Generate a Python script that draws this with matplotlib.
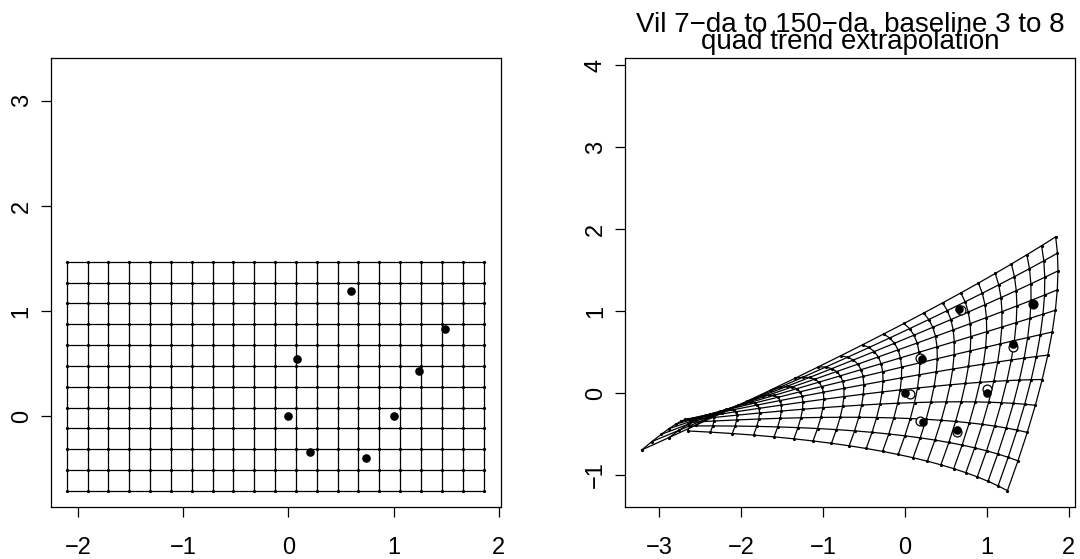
import numpy as np
import matplotlib
matplotlib.use("Agg")
import matplotlib.pyplot as plt

plt.rcParams['font.family'] = ['Liberation Sans', 'DejaVu Sans']

# Regular reference grid (source configuration space)
grid_x = [-2.105, -1.907, -1.709, -1.511, -1.313, -1.115, -0.917, -0.719,
          -0.521, -0.323, -0.125, 0.073, 0.271, 0.469, 0.667, 0.865,
          1.063, 1.261, 1.459, 1.657, 1.855]
grid_y = [-0.708, -0.510, -0.312, -0.114, 0.084, 0.282, 0.480, 0.678,
          0.876, 1.074, 1.272, 1.470]

# Landmarks in Bookstein coordinates (baseline 3 to 8)
src_x = [0.593, 1.491, 0.081, 1.238, 0.000, 1.000, 0.204, 0.738]
src_y = [1.191, 0.832, 0.549, 0.429, 0.000, 0.000, -0.337, -0.397]
tgt_x = [0.663, 1.570, 0.215, 1.318, 0.000, 1.000, 0.220, 0.635]
tgt_y = [1.022, 1.083, 0.411, 0.598, 0.000, 0.000, -0.350, -0.452]
# Landmark positions predicted by the quadratic trend
fit_x = [0.687, 1.570, 0.187, 1.326, 0.065, 1.009, 0.187, 0.643]
fit_y = [1.013, 1.083, 0.423, 0.566, -0.016, 0.045, -0.338, -0.472]

# Extrapolated positions of selected grid nodes (column, row) -> (x, y)
anchor_col = [0, 0, 20, 20, 20, 10, 10]
anchor_row = [0, 11, 11, 0, 5, 0, 11]
anchor_x = [-2.650, -3.211, 1.844, 1.253, 1.746, -0.268, -0.261]
anchor_y = [-0.464, -0.696, 1.908, -1.193, 0.464, -0.712, 0.720]


def quad_design(u, v):
    u = np.asarray(u, float)
    v = np.asarray(v, float)
    return np.column_stack([np.ones_like(u), u, v, u * u, u * v, v * v])


gx = np.asarray(grid_x)
gy = np.asarray(grid_y)

# Fit the quadratic trend to the control pairs
cu = np.concatenate([src_x, gx[anchor_col]])
cv = np.concatenate([src_y, gy[anchor_row]])
dx = np.concatenate([fit_x, anchor_x])
dy = np.concatenate([fit_y, anchor_y])
w = np.concatenate([np.ones(len(src_x)), 3.0 * np.ones(len(anchor_x))])
A = quad_design(cu, cv) * w[:, None]
coef_x = np.linalg.lstsq(A, dx * w, rcond=None)[0]
coef_y = np.linalg.lstsq(A, dy * w, rcond=None)[0]

U, V = np.meshgrid(gx, gy)
D = quad_design(U.ravel(), V.ravel())
WX = (D @ coef_x).reshape(U.shape)
WY = (D @ coef_y).reshape(U.shape)

W, H = 1080, 559
fig = plt.figure(figsize=(W / 100, H / 100), dpi=100)

ax1 = fig.add_axes([50.7 / W, 1 - 507 / H, 450.3 / W, 448.7 / H])
ax2 = fig.add_axes([625 / W, 1 - 507 / H, 450 / W, 448.7 / H])

lw = 0.9
for ax in (ax1, ax2):
    for s in ax.spines.values():
        s.set_linewidth(0.9)
        s.set_color('black')
    ax.tick_params(length=7, width=0.9, labelsize=17, color='black')
    ax.tick_params(axis='y', labelrotation=90, pad=6)
    ax.tick_params(axis='x', pad=14.5)

# Left panel: undeformed grid with source landmarks
for j in range(len(gy)):
    ax1.plot(gx, np.full_like(gx, gy[j]), color='black', lw=lw)
for i in range(len(gx)):
    ax1.plot(np.full_like(gy, gx[i]), gy, color='black', lw=lw)
ax1.plot(U.ravel(), V.ravel(), 'o', color='black', ms=2.3, mew=0)
ax1.plot(src_x, src_y, 'o', color='black', ms=6.2, mew=0)
ax1.set_xlim(-2.2575, 2.021)
ax1.set_ylim(-0.860, 3.403)
ax1.set_xticks([-2, -1, 0, 1, 2])
ax1.set_yticks([0, 1, 2, 3])

# Right panel: grid deformed by the quadratic trend
for j in range(WX.shape[0]):
    ax2.plot(WX[j, :], WY[j, :], color='black', lw=lw)
for i in range(WX.shape[1]):
    ax2.plot(WX[:, i], WY[:, i], color='black', lw=lw)
ax2.plot(WX.ravel(), WY.ravel(), 'o', color='black', ms=2.3, mew=0)
ax2.plot(fit_x, fit_y, 'o', mfc='white', mec='black', ms=6.4, mew=0.9)
ax2.plot(tgt_x, tgt_y, 'o', color='black', ms=6.2, mew=0)
ax2.set_xlim(-3.415, 2.079)
ax2.set_ylim(-1.392, 4.087)
ax2.set_xticks([-3, -2, -1, 0, 1, 2])
ax2.set_yticks([-1, 0, 1, 2, 3, 4])

for lab in ax1.get_yticklabels() + ax2.get_yticklabels():
    lab.set_verticalalignment('center')

fig.text(850 / W, 1 - 31.5 / H, "Vil 7\u2212da to 150\u2212da, baseline 3 to 8",
         ha='center', va='baseline', fontsize=20)
fig.text(850 / W, 1 - 49 / H, "quad trend extrapolation",
         ha='center', va='baseline', fontsize=20)

fig.savefig("out.png", dpi=100)
